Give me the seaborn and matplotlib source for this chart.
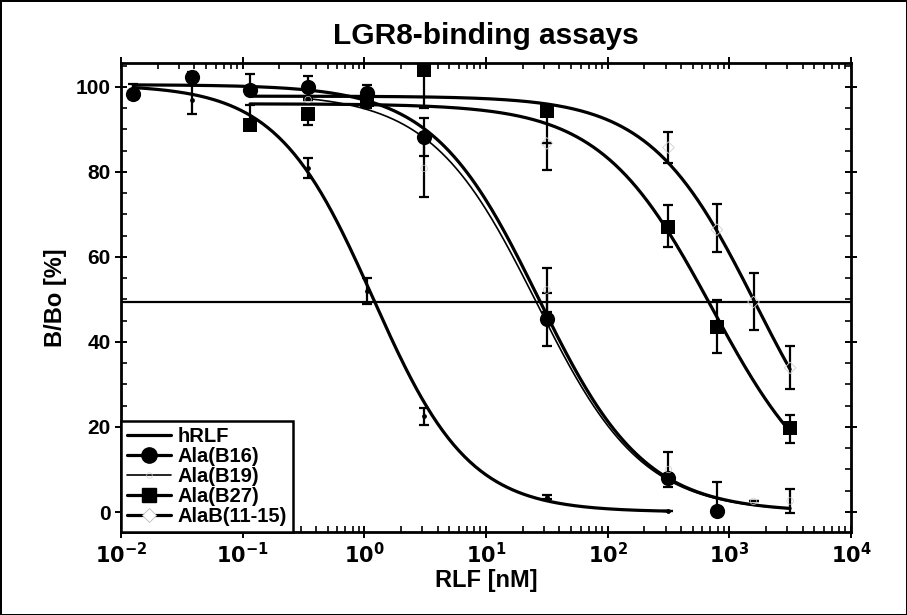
import numpy as np
import pandas as pd
import matplotlib
matplotlib.use('Agg')
import matplotlib.pyplot as plt
import seaborn as sns
from matplotlib.lines import Line2D
from matplotlib.ticker import LogLocator, AutoMinorLocator, FuncFormatter, NullFormatter

sns.set_theme(style='ticks')
plt.rcParams['font.family'] = ['Liberation Sans', 'DejaVu Sans']
plt.rcParams['font.weight'] = 'bold'
plt.rcParams['mathtext.default'] = 'bf'
plt.rcParams['text.color'] = 'black'
plt.rcParams['axes.labelcolor'] = 'black'

# 数据点 (浓度 nM, B/Bo %, 误差下/上)
hrlf_x = [0.038, 0.115, 0.345, 1.05, 3.1, 31.6, 316]
hrlf_y = [97, 91.5, 81, 52, 22.5, 3.5, 0.3]
hrlf_lo = [3.5, 0, 2.5, 3, 2, 0.5, 0]
hrlf_hi = [3.5, 0, 2.2, 3, 2, 0.5, 0]

b16_x = [0.0126, 0.038, 0.115, 0.345, 1.05, 3.1, 31.6, 316, 790]
b16_y = [98.2, 102.4, 99.2, 100, 98.5, 88.2, 45.3, 8.0, 0.3]
b16_lo = [1, 1, 1, 2.6, 2, 4.4, 6.3, 1, 1]
b16_hi = [2.4, 1, 3.8, 2.6, 2, 4.4, 6.3, 1, 6.8]

b19_x = [0.345, 1.05, 3.1, 31.6, 316, 1580, 3160]
b19_y = [97, 97.5, 80.8, 52.2, 10, 2.5, 2.6]
b19_lo = [0, 0, 6.8, 5.2, 4, 0, 2.8]
b19_hi = [0, 0, 6.8, 5.2, 4, 0, 2.8]

b27_x = [0.115, 0.345, 1.05, 3.1, 31.6, 316, 790, 3160]
b27_y = [91, 93.7, 97, 103.9, 94.3, 67.1, 43.5, 19.8]
b27_lo = [0, 2.7, 2, 9, 13.8, 4.7, 6.1, 3.6]
b27_hi = [4.7, 0, 2, 0, 0, 5.1, 6.3, 3.1]

alab_x = [31.6, 316, 790, 1580, 3160]
alab_y = [86.7, 85.7, 66.4, 49.4, 33.9]
alab_lo = [0, 3.7, 5.2, 6.7, 4.9]
alab_hi = [0, 3.7, 6, 6.7, 5.1]

# 拟合曲线参数 (top, IC50, hill, x起点, x终点)
names = ['hRLF', 'Ala(B16)', 'Ala(B19)', 'Ala(B27)', 'AlaB(11-15)']
fit_top = [100.5, 100.5, 98.5, 96, 97.8]
fit_ic50 = [1.18, 27, 26, 720, 1650]
fit_hill = [1.1, 1.0, 1.0, 0.95, 1.0]
fit_start = [0.0126, 0.0126, 0.345, 0.115, 0.115]
fit_end = [316, 3160, 3160, 3160, 3160]
half_line = 49.4

curves = []
for n, t, c, h, s, e in zip(names, fit_top, fit_ic50, fit_hill, fit_start, fit_end):
    xx = np.logspace(np.log10(s), np.log10(e), 300)
    curves.append(pd.DataFrame({'x': xx, 'y': t / (1 + (xx / c) ** h), 'name': n}))
curves = pd.concat(curves)

fig = plt.figure(figsize=(9.07, 6.15), dpi=100)
fig.patch.set_edgecolor('black')
fig.patch.set_linewidth(2)
ax = fig.add_axes([121 / 907, 1 - 532 / 615, 730 / 907, 469 / 615])
ax.set_xscale('log')

# 曲线
lw = {'hRLF': 2.3, 'Ala(B16)': 2.3, 'Ala(B19)': 1.2, 'Ala(B27)': 2.3, 'AlaB(11-15)': 2.3}
for n in names:
    sns.lineplot(data=curves[curves['name'] == n], x='x', y='y', color='black',
                 lw=lw[n], estimator=None, sort=False, ax=ax)

ax.axhline(half_line, color='black', lw=1.6)

# 误差棒
for x, y, lo, hi in [(hrlf_x, hrlf_y, hrlf_lo, hrlf_hi), (b16_x, b16_y, b16_lo, b16_hi),
                     (b19_x, b19_y, b19_lo, b19_hi), (b27_x, b27_y, b27_lo, b27_hi),
                     (alab_x, alab_y, alab_lo, alab_hi)]:
    ax.errorbar(x, y, yerr=[lo, hi], fmt='none', ecolor='black', elinewidth=1.6,
                capsize=3.5, capthick=1.6, zorder=3)

# 标记点
sns.scatterplot(x=hrlf_x, y=hrlf_y, marker='o', s=12, color='black', linewidth=0, ax=ax, zorder=4)
sns.scatterplot(x=b16_x, y=b16_y, marker='o', s=120, color='black', linewidth=0, ax=ax, zorder=4)
sns.scatterplot(x=b19_x, y=b19_y, marker='o', s=22, facecolor='none', edgecolor='#cccccc',
                linewidth=0.5, ax=ax, zorder=4)
sns.scatterplot(x=b27_x, y=b27_y, marker='s', s=110, color='black', linewidth=0, ax=ax, zorder=4)
sns.scatterplot(x=alab_x, y=alab_y, marker='D', s=35, facecolor='none', edgecolor='#cfcfcf',
                linewidth=0.6, ax=ax, zorder=4)

ax.set_xlim(1e-2, 1e4)
ax.set_ylim(-4.7, 105.6)
ax.set_xticks([1e-2, 1e-1, 1e0, 1e1, 1e2, 1e3, 1e4])
ax.xaxis.set_minor_locator(LogLocator(base=10, subs=np.arange(2, 10), numticks=20))
ax.xaxis.set_minor_formatter(NullFormatter())
ax.xaxis.set_major_formatter(FuncFormatter(lambda v, p: r'$\mathbf{10^{%d}}$' % round(np.log10(v))))
ax.set_yticks([0, 20, 40, 60, 80, 100])
ax.yaxis.set_minor_locator(AutoMinorLocator(4))

ax.tick_params(which='major', direction='inout', length=8, width=1.4, top=True, right=True,
               labelsize=15, colors='black')
ax.tick_params(which='minor', direction='in', length=4, width=1.2, top=True, right=True,
               colors='black')
for lab in ax.get_yticklabels():
    lab.set_fontweight('bold')
for sp in ax.spines.values():
    sp.set_linewidth(2)
    sp.set_color('black')

ax.set_xlabel('RLF [nM]', fontsize=17, fontweight='bold', labelpad=1, color='black')
ax.set_ylabel('B/Bo [%]', fontsize=17, fontweight='bold', labelpad=6, color='black')
ax.set_title('LGR8-binding assays', fontsize=21.5, fontweight='bold', pad=14, color='black')

# 图例
handles = [
    Line2D([], [], color='black', lw=2.3),
    Line2D([], [], color='black', lw=2.3, marker='o', markersize=11),
    Line2D([], [], color='black', lw=1.2, marker='o', markersize=4, markerfacecolor='none',
           markeredgecolor='#d5d5d5', markeredgewidth=0.5),
    Line2D([], [], color='black', lw=2.3, marker='s', markersize=10),
    Line2D([], [], color='black', lw=2.3, marker='D', markersize=7, markerfacecolor='white',
           markeredgecolor='#bbbbbb', markeredgewidth=0.6),
]
leg = ax.legend(handles, names, loc='lower left', borderaxespad=0, fancybox=False,
                framealpha=1, edgecolor='black', prop={'size': 14.5, 'weight': 'bold'},
                handlelength=2.2, handletextpad=0.3, labelspacing=0.05, borderpad=0.3)
leg.get_frame().set_linewidth(1.8)
for t in leg.get_texts():
    t.set_color('black')

fig.savefig('out.png', dpi=100, edgecolor=fig.get_edgecolor())
